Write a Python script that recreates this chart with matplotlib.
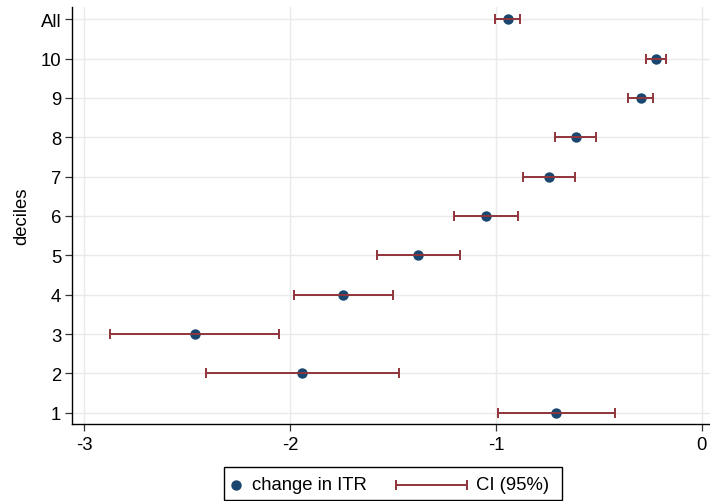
import matplotlib
matplotlib.use("Agg")
import matplotlib.pyplot as plt
from matplotlib.lines import Line2D
from matplotlib.patches import Rectangle

# ---- data ----
categories = ['1', '2', '3', '4', '5', '6', '7', '8', '9', '10', 'All']
estimate = [-0.707, -1.940, -2.464, -1.741, -1.380, -1.049, -0.742, -0.612, -0.296, -0.222, -0.942]
ci_low   = [-0.991, -2.409, -2.874, -1.979, -1.578, -1.202, -0.866, -0.712, -0.356, -0.270, -1.004]
ci_high  = [-0.423, -1.470, -2.053, -1.498, -1.175, -0.894, -0.617, -0.513, -0.235, -0.172, -0.881]
x_ticks = [-3, -2, -1, 0]
x_tick_labels = ['-3', '-2', '-1', '0']

NAVY = '#1a476f'
MAROON = '#90353b'
GRID = '#eaeaea'
FS = 13.3

plt.rcParams['font.family'] = ['Liberation Sans', 'DejaVu Sans']

W, H = 710, 502
fig = plt.figure(figsize=(W / 100, H / 100), dpi=100)

def fx(px):
    return px / W

def fy(py):
    return 1 - py / H

ax_l, ax_r, ax_t, ax_b = 72.3, 710, 8, 425
ax = fig.add_axes([fx(ax_l), fy(ax_b), fx(ax_r - ax_l), (ax_b - ax_t) / H])

ypos = list(range(1, len(categories) + 1))

ax.scatter(estimate, ypos, s=7.5 ** 2, color=NAVY, zorder=3, linewidths=0)
err_lo = [e - l for e, l in zip(estimate, ci_low)]
err_hi = [h - e for e, h in zip(estimate, ci_high)]
ax.errorbar(estimate, ypos, xerr=[err_lo, err_hi], fmt='none', ecolor=MAROON,
            elinewidth=1.4, capsize=3.3, capthick=1.4, zorder=4)

ax.set_xlim(-3.058, 0.0403)
ax.set_ylim(0.713, 11.31)
ax.set_xticks(x_ticks)
ax.set_xticklabels(x_tick_labels)
ax.set_yticks(ypos)
ax.set_yticklabels(categories)

ax.grid(True, color=GRID, linewidth=1.0, zorder=0)
ax.set_axisbelow(True)
for s in ['top', 'right']:
    ax.spines[s].set_visible(False)
for s in ['left', 'bottom']:
    ax.spines[s].set_linewidth(1.0)
    ax.spines[s].set_color('black')

ax.tick_params(axis='both', which='major', labelsize=FS, length=5, width=0.9,
               color='#333333', labelcolor='black')
ax.tick_params(axis='y', pad=3)
ax.tick_params(axis='x', pad=4)

ax.set_ylabel('deciles', fontsize=FS, va='center', ha='center')
ax.yaxis.set_label_coords((21.7 - ax_l) / (ax_r - ax_l), 0.5)

# ---- legend (drawn as a framed box under the plot) ----
box = Rectangle((fx(224), fy(501)), fx(562 - 224), (501 - 468) / H,
                transform=fig.transFigure, facecolor='white', edgecolor='black',
                linewidth=1.0)
fig.add_artist(box)
yc = fy(485.5)
fig.add_artist(Line2D([fx(236)], [yc], marker='o', markersize=7.5, color=NAVY,
                      markeredgewidth=0, linestyle='none', transform=fig.transFigure))
fig.text(fx(251.5), yc, 'change in ITR', fontsize=FS, va='center', ha='left')
fig.add_artist(Line2D([fx(396), fx(466.5)], [yc, yc], color=MAROON, linewidth=1.4,
                      transform=fig.transFigure))
for xx in (396, 466.5):
    fig.add_artist(Line2D([fx(xx)], [yc], marker='|', markersize=6.5, markeredgewidth=1.4,
                          color=MAROON, transform=fig.transFigure))
fig.text(fx(476.5), yc, 'CI (95%)', fontsize=FS, va='center', ha='left')

fig.savefig('out.png', dpi=100)
